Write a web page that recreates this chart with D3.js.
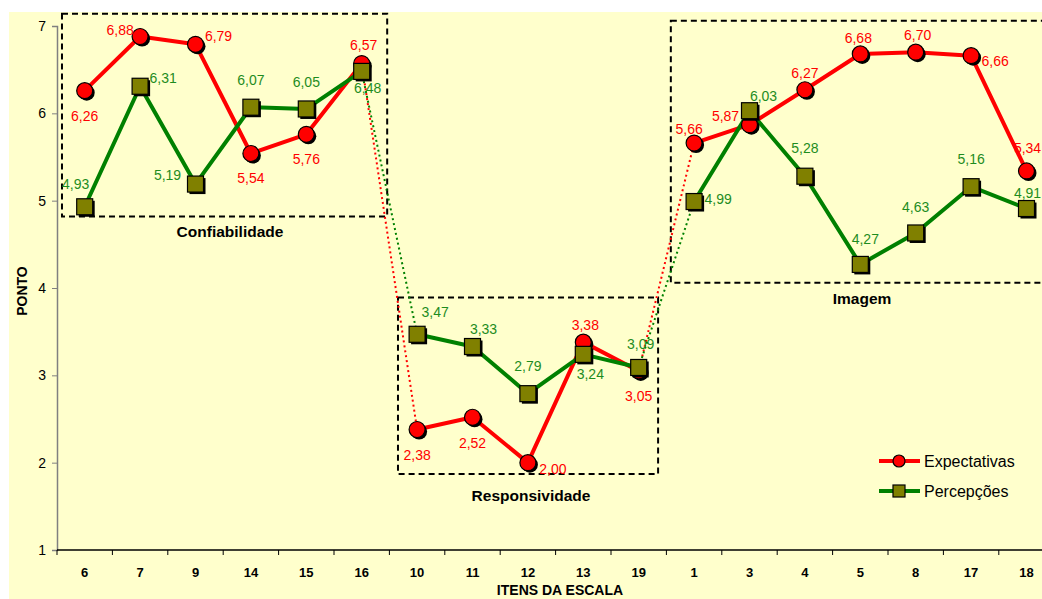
<!DOCTYPE html>
<html><head><meta charset="utf-8">
<script src="https://cdn.jsdelivr.net/npm/d3@7"></script>
<style>
html,body{margin:0;padding:0;background:#fff;}
svg{display:block;font-family:"Liberation Sans",Arial,sans-serif;}
</style></head>
<body>
<svg id="chart" width="1042" height="599"></svg>
<script>
// ---- data ----
const categories = ["6","7","9","14","15","16","10","11","12","13","19","1","3","4","5","8","17","18"];
const expectativas = [6.26,6.88,6.79,5.54,5.76,6.57,2.38,2.52,2.00,3.38,3.05,5.66,5.87,6.27,6.68,6.70,6.66,5.34];
const percepcoes   = [4.93,6.31,5.19,6.07,6.05,6.48,3.47,3.33,2.79,3.24,3.09,4.99,6.03,5.28,4.27,4.63,5.16,4.91];
const groupNames = ["Confiabilidade","Responsividade","Imagem"];
const groupRanges = [[0,5],[6,10],[11,17]];
const yTicks = [1,2,3,4,5,6,7];
const seriesNames = ["Expectativas","Percepções"];

// ---- styles / layout ----
const redOff = [[0,25],[-20,-6],[23,-8],[0,25],[0,25],[2,-18],[0,26],[0,26],[25,6],[2,-17],[0,25],[-5,-14],[-24,-9],[0,-17],[-2,-16],[2,-17],[24,5],[1,-23]];
const greenOff = [[-9,-23],[23,-8],[-28,-9],[0,-27],[0,-27],[6,17],[18,-22],[11,-17],[0,-28],[7,20],[2,-23],[24,-2],[14,-15],[0,-28],[5,-25],[0,-26],[0,-28],[1,-15]];
const boxes = [
  {x0:-0.41, x1:5.46, y0:7.14, y1:4.82, lx:230, ly:232},
  {x0:5.655, x1:10.35, y0:3.89, y1:1.87, lx:531, ly:496},
  {x0:10.58, x1:18.5, y0:7.06, y1:4.06, lx:862, ly:299}
];

(function(){
const svg = d3.select("#chart");
const W = 1042, H = 599;
const mLeft = 57, bandW = 55.4, mTop = 26, mBottom = 550;

svg.append("rect").attr("x",9).attr("y",12).attr("width",W-9).attr("height",H-12).attr("fill","#FFFFCC");

const x = d3.scaleBand().domain(categories).range([mLeft, mLeft + bandW*categories.length]).paddingInner(0).paddingOuter(0);
const y = d3.scaleLinear().domain([1,7]).range([mBottom, mTop]);
const cx = i => x(categories[i]) + x.bandwidth()/2;
const xi = v => mLeft + (v + 0.5) * bandW;

// y axis
const yAxis = svg.append("g").attr("transform",`translate(${mLeft},0)`)
  .call(d3.axisLeft(y).tickValues(yTicks).tickFormat(d3.format("d")).tickSize(5).tickPadding(6));
yAxis.select(".domain").attr("stroke","#808080").attr("stroke-width",1.5);
yAxis.selectAll(".tick line").attr("stroke","#808080");
yAxis.selectAll(".tick text").attr("font-size",14).attr("fill","#000").attr("font-family","Liberation Sans, Arial");

// x axis
const xAxisG = svg.append("g").attr("transform",`translate(0,${mBottom})`);
xAxisG.append("line").attr("x1",mLeft).attr("x2",W).attr("y1",0).attr("y2",0).attr("stroke","#000").attr("stroke-width",1.5);
xAxisG.selectAll("line.tk").data(categories).enter().append("line").attr("class","tk")
  .attr("x1",d=>x(d)).attr("x2",d=>x(d)).attr("y1",0).attr("y2",5).attr("stroke","#000").attr("stroke-width",1);
xAxisG.selectAll("text.lb").data(categories).enter().append("text").attr("class","lb")
  .attr("x",d=>x(d)+x.bandwidth()/2).attr("y",22).attr("dy","0.35em").attr("text-anchor","middle")
  .attr("font-size",13).attr("font-weight","bold").text(d=>d);

svg.append("text").attr("x",560).attr("y",590).attr("dy","0.35em").attr("text-anchor","middle")
  .attr("font-size",14).attr("font-weight","bold").text("ITENS DA ESCALA");
svg.append("text").attr("transform","translate(22,291) rotate(-90)").attr("dy","0.35em").attr("text-anchor","middle")
  .attr("font-size",14).attr("font-weight","bold").text("PONTO");

// boxes
boxes.forEach((b,k)=>{
  svg.append("rect").attr("x",xi(b.x0)).attr("y",y(b.y0))
    .attr("width",xi(b.x1)-xi(b.x0)).attr("height",y(b.y1)-y(b.y0))
    .attr("fill","none").attr("stroke","#000").attr("stroke-width",2).attr("stroke-dasharray","6,4");
  svg.append("text").attr("x",b.lx).attr("y",b.ly).attr("dy","0.35em").attr("text-anchor","middle")
    .attr("font-size",15.5).attr("font-weight","bold").text(groupNames[k]);
});

const line = d3.line().x(d=>cx(d.i)).y(d=>y(d.v));
function drawSeries(vals, color) {
  const pts = vals.map((v,i)=>({i,v}));
  for (let g=0; g<groupRanges.length-1; g++) {
    const a = pts[groupRanges[g][1]], b = pts[groupRanges[g+1][0]];
    svg.append("path").attr("d",line([a,b])).attr("fill","none").attr("stroke",color)
      .attr("stroke-width",2).attr("stroke-dasharray","2,3");
  }
  groupRanges.forEach(r=>{
    svg.append("path").attr("d",line(pts.slice(r[0],r[1]+1))).attr("fill","none")
      .attr("stroke",color).attr("stroke-width",4).attr("stroke-linejoin","round");
  });
}
function drawMarkers(vals, kind) {
  const g = svg.append("g");
  vals.forEach((v,i)=>{
    const px = cx(i), py = y(v);
    if (kind==="circle") {
      g.append("circle").attr("cx",px+2).attr("cy",py+2).attr("r",8).attr("fill","#000");
      g.append("circle").attr("cx",px).attr("cy",py).attr("r",8).attr("fill","#FF0000").attr("stroke","#000").attr("stroke-width",1.2);
    } else {
      g.append("rect").attr("x",px-6).attr("y",py-6).attr("width",16).attr("height",16).attr("fill","#000");
      g.append("rect").attr("x",px-8).attr("y",py-8).attr("width",16).attr("height",16).attr("fill","#808000").attr("stroke","#000").attr("stroke-width",1.2);
    }
  });
}
function drawLabels(vals, offs, color) {
  vals.forEach((v,i)=>{
    svg.append("text").attr("x",cx(i)+offs[i][0]).attr("y",y(v)+offs[i][1]).attr("dy","0.35em")
      .attr("text-anchor","middle").attr("font-size",14).attr("fill",color)
      .text(d3.format(".2f")(v).replace(".",","));
  });
}
drawSeries(expectativas,"#FF0000");
drawSeries(percepcoes,"#008000");
drawMarkers(expectativas,"circle");
drawMarkers(percepcoes,"square");
drawLabels(expectativas,redOff,"#FF0000");
drawLabels(percepcoes,greenOff,"#1E8C1E");

// legend
const leg = svg.append("g");
[["#FF0000","circle",461],["#008000","square",491]].forEach((s,k)=>{
  leg.append("line").attr("x1",879).attr("x2",920).attr("y1",s[2]).attr("y2",s[2]).attr("stroke",s[0]).attr("stroke-width",4);
  if (s[1]==="circle") leg.append("circle").attr("cx",899).attr("cy",s[2]).attr("r",6).attr("fill","#FF0000").attr("stroke","#000").attr("stroke-width",1.2);
  else leg.append("rect").attr("x",893).attr("y",s[2]-6).attr("width",12).attr("height",12).attr("fill","#808000").attr("stroke","#000").attr("stroke-width",1.2);
  leg.append("text").attr("x",924).attr("y",s[2]).attr("dy","0.35em").attr("font-size",16).attr("fill","#000").text(seriesNames[k]);
});
})();
</script>
</body></html>
